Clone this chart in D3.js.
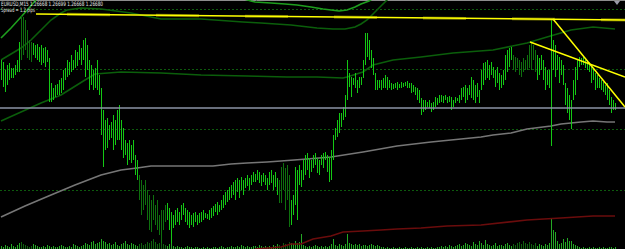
<!DOCTYPE html>
<html><head><meta charset="utf-8">
<script src="https://cdn.jsdelivr.net/npm/d3@7/dist/d3.min.js"></script>
<style>html,body{margin:0;padding:0;background:#000;overflow:hidden}svg{display:block}</style>
</head><body><svg id="c" width="625" height="249"></svg>
<script>
// ---- data ----
const symbolLabel = "EURUSD,M15";
const lastBar = ["1.26668", "1.26699", "1.26668", "1.26680"];
const spreadLabel = "Spread = 1.2 pips";
const bidPrice = 1.26680;
const gridLevels = [1.26779, 1.26719, 1.26659, 1.26598];

const highs = [
1.26728,1.26726,1.26718,1.26723,1.26725,1.26720,1.26720,1.26723,1.26728,1.26746,
1.26773,1.26771,1.26768,1.26758,1.26748,1.26746,1.26745,1.26743,1.26744,1.26741,
1.26743,1.26740,1.26741,1.26738,1.26730,1.26705,1.26700,1.26703,1.26704,1.26708,
1.26710,1.26718,1.26720,1.26728,1.26726,1.26733,1.26728,1.26738,1.26736,1.26743,
1.26740,1.26748,1.26750,1.26743,1.26728,1.26723,1.26718,1.26720,1.26728,1.26713,
1.26700,1.26678,1.26668,1.26670,1.26663,1.26666,1.26673,1.26668,1.26678,1.26683,
1.26668,1.26660,1.26648,1.26645,1.26648,1.26643,1.26648,1.26633,1.26628,1.26613,
1.26608,1.26603,1.26608,1.26598,1.26593,1.26588,1.26593,1.26583,1.26588,1.26573,
1.26578,1.26578,1.26583,1.26585,1.26580,1.26576,1.26573,1.26578,1.26580,1.26576,
1.26583,1.26585,1.26580,1.26578,1.26576,1.26573,1.26575,1.26576,1.26573,1.26575,
1.26576,1.26578,1.26575,1.26574,1.26578,1.26580,1.26582,1.26584,1.26586,1.26583,
1.26588,1.26593,1.26596,1.26598,1.26601,1.26603,1.26606,1.26608,1.26610,1.26608,
1.26611,1.26608,1.26610,1.26613,1.26610,1.26613,1.26616,1.26614,1.26618,1.26616,
1.26613,1.26615,1.26613,1.26610,1.26616,1.26618,1.26613,1.26616,1.26610,1.26608,
1.26621,1.26625,1.26620,1.26623,1.26613,1.26588,1.26593,1.26621,1.26618,1.26623,
1.26618,1.26628,1.26633,1.26635,1.26630,1.26628,1.26633,1.26635,1.26630,1.26628,
1.26633,1.26635,1.26636,1.26633,1.26631,1.26638,1.26653,1.26660,1.26668,1.26675,
1.26675,1.26681,1.26693,1.26728,1.26715,1.26711,1.26710,1.26715,1.26708,1.26711,
1.26711,1.26728,1.26755,1.26755,1.26748,1.26738,1.26730,1.26715,1.26708,1.26708,
1.26708,1.26710,1.26713,1.26711,1.26708,1.26705,1.26704,1.26705,1.26706,1.26704,
1.26706,1.26705,1.26706,1.26707,1.26705,1.26705,1.26703,1.26701,1.26700,1.26698,
1.26690,1.26688,1.26688,1.26686,1.26688,1.26685,1.26686,1.26691,1.26690,1.26693,
1.26693,1.26692,1.26693,1.26691,1.26692,1.26691,1.26688,1.26691,1.26690,1.26693,
1.26700,1.26701,1.26703,1.26700,1.26703,1.26711,1.26708,1.26703,1.26705,1.26698,
1.26718,1.26725,1.26726,1.26728,1.26723,1.26726,1.26721,1.26718,1.26721,1.26715,
1.26713,1.26718,1.26733,1.26738,1.26740,1.26741,1.26733,1.26731,1.26730,1.26728,
1.26726,1.26730,1.26728,1.26733,1.26743,1.26746,1.26743,1.26738,1.26733,1.26730,
1.26733,1.26728,1.26721,1.26718,1.26718,1.26769,1.26748,1.26743,1.26733,1.26731,
1.26728,1.26723,1.26705,1.26700,1.26693,1.26688,1.26708,1.26721,1.26728,1.26731,
1.26730,1.26731,1.26728,1.26728,1.26726,1.26721,1.26720,1.26715,1.26713,1.26710,
1.26708,1.26706,1.26703,1.26705,1.26698,1.26691,1.26688,1.26685];

const lows = [
1.26708,1.26701,1.26696,1.26703,1.26708,1.26710,1.26710,1.26713,1.26716,1.26716,
1.26728,1.26733,1.26738,1.26730,1.26728,1.26726,1.26733,1.26730,1.26728,1.26726,
1.26723,1.26725,1.26721,1.26726,1.26686,1.26686,1.26688,1.26691,1.26693,1.26693,
1.26695,1.26698,1.26708,1.26711,1.26713,1.26716,1.26718,1.26720,1.26722,1.26728,
1.26723,1.26728,1.26711,1.26718,1.26698,1.26703,1.26698,1.26700,1.26698,1.26693,
1.26653,1.26621,1.26638,1.26640,1.26648,1.26650,1.26638,1.26643,1.26648,1.26648,
1.26638,1.26630,1.26633,1.26623,1.26628,1.26625,1.26628,1.26613,1.26608,1.26588,
1.26573,1.26578,1.26583,1.26568,1.26558,1.26556,1.26568,1.26563,1.26558,1.26553,
1.26545,1.26558,1.26566,1.26568,1.26558,1.26545,1.26560,1.26563,1.26566,1.26563,
1.26568,1.26573,1.26566,1.26563,1.26560,1.26563,1.26561,1.26566,1.26563,1.26565,
1.26566,1.26568,1.26570,1.26569,1.26568,1.26570,1.26572,1.26576,1.26573,1.26576,
1.26578,1.26580,1.26583,1.26586,1.26588,1.26590,1.26593,1.26588,1.26596,1.26590,
1.26598,1.26593,1.26600,1.26602,1.26598,1.26603,1.26606,1.26606,1.26608,1.26605,
1.26602,1.26606,1.26603,1.26598,1.26603,1.26605,1.26598,1.26601,1.26593,1.26585,
1.26585,1.26598,1.26578,1.26588,1.26561,1.26563,1.26573,1.26583,1.26568,1.26603,
1.26601,1.26608,1.26613,1.26618,1.26610,1.26616,1.26620,1.26623,1.26615,1.26613,
1.26623,1.26620,1.26628,1.26616,1.26606,1.26608,1.26628,1.26648,1.26651,1.26655,
1.26661,1.26668,1.26671,1.26688,1.26701,1.26691,1.26703,1.26700,1.26695,1.26700,
1.26703,1.26710,1.26723,1.26731,1.26728,1.26720,1.26713,1.26698,1.26698,1.26700,
1.26698,1.26700,1.26700,1.26698,1.26700,1.26698,1.26699,1.26700,1.26698,1.26700,
1.26700,1.26701,1.26702,1.26700,1.26700,1.26695,1.26696,1.26693,1.26688,1.26685,
1.26673,1.26676,1.26678,1.26681,1.26680,1.26676,1.26678,1.26681,1.26683,1.26685,
1.26686,1.26685,1.26688,1.26685,1.26686,1.26678,1.26681,1.26685,1.26687,1.26685,
1.26688,1.26691,1.26685,1.26688,1.26693,1.26690,1.26688,1.26685,1.26691,1.26685,
1.26698,1.26703,1.26708,1.26710,1.26708,1.26713,1.26710,1.26701,1.26705,1.26698,
1.26700,1.26703,1.26708,1.26716,1.26721,1.26728,1.26718,1.26716,1.26720,1.26713,
1.26711,1.26716,1.26718,1.26718,1.26720,1.26718,1.26728,1.26716,1.26708,1.26713,
1.26718,1.26708,1.26698,1.26703,1.26700,1.26642,1.26718,1.26711,1.26718,1.26705,
1.26713,1.26703,1.26683,1.26675,1.26668,1.26659,1.26688,1.26693,1.26708,1.26721,
1.26723,1.26723,1.26720,1.26718,1.26716,1.26705,1.26708,1.26698,1.26700,1.26700,
1.26698,1.26696,1.26693,1.26688,1.26683,1.26675,1.26678,1.26678];

// bar index ranges drawn in the darker shade
const darkBars = [[10, 15], [69, 82], [139, 144], [256, 267]];

const volumes = [
3,2,4,3,2,5,3,2,4,6, 7,5,4,3,2,3,5,4,3,2, 2,3,2,4,3,2,3,2,2,3, 4,3,2,2,3,2,5,4,3,2, 3,4,6,5,4,7,8,5,6,7,
10,8,7,5,6,4,5,7,4,3, 5,6,8,5,4,6,5,4,3,5, 6,4,5,7,6,8,10,7,5,6, 9,5,4,3,5,6,3,2,3,2, 2,1,2,3,2,2,1,2,2,1,
1,2,1,2,1,1,2,2,1,2, 3,2,1,2,2,3,2,2,3,2, 4,3,2,3,2,2,3,3,2,4, 3,2,3,2,3,2,4,3,5,4, 3,6,5,4,7,6,5,8,6,7,
15,4,3,2,3,2,3,4,3,2, 3,2,3,2,3,5,10,4,3,5, 4,3,5,15,6,5,4,5,4,5, 3,4,4,3,4,5,4,3,4,3, 2,2,1,2,1,1,2,1,1,2,
1,1,2,1,1,2,1,1,2,1, 2,1,1,2,1,2,1,1,2,2, 3,2,3,2,4,3,2,3,4,5, 3,4,6,5,4,3,7,5,4,8, 6,4,9,5,4,3,4,6,3,4,
4,3,5,6,4,3,5,4,6,7, 5,8,6,5,7,5,4,6,3,5, 4,3,5,4,6,
31,19,17,8,5,6,10,7,11,8, 8,5,4,3,2,1,2,1,1,2, 1,2,1,1,2,1,2,1,1,2, 2,1,2];

// indicator lines: [bar index, price]
const bandUpperA = [[0,1.26750],[5,1.26760],[10,1.26771],[14,1.26780],[17,1.26787],[19,1.26792]];
const bandUpperB = [[120,1.26790],[125,1.26787],[127,1.26786],[135,1.26785],[142,1.26784],[148,1.26783],[155,1.26781],[161,1.26779],[169,1.26777],[173,1.26778],[177,1.26781],[180,1.26784],[184,1.26787],[187,1.26791]];
const bandMiddle = [[0,1.26728],[10,1.26740],[15,1.26748],[20,1.26758],[25,1.26768],[30,1.26775],[33,1.26778],[40,1.26780],[50,1.26779],[65,1.26775],[80,1.26769],[100,1.26769],[121,1.26766],[130,1.26765],[145,1.26763],[158,1.26760],[166,1.26759],[172,1.26759],[177,1.26761],[180,1.26764],[183,1.26768],[186,1.26774],[190,1.26782],[194,1.26790]];
const bandLower = [[0,1.26667],[10,1.26676],[20,1.26685],[30,1.26693],[42,1.26708],[47,1.26714],[60,1.26716],[80,1.26715],[100,1.26713],[123,1.26712],[143,1.26711],[158,1.26711],[171,1.26710],[173,1.26711],[181,1.26716],[186,1.26723],[196,1.26728],[210,1.26731],[226,1.26735],[246,1.26738],[263,1.26745],[273,1.26751],[285,1.26758],[296,1.26761],[307,1.26759]];
const maSlowIdx = [0,12,25,37,50,60,68,75,106,115,123,133,140,153,165,181,198,215,230,240,246,255,263,275,280,290,296,303,307];
const maSlowVal = [1.26571,1.26582,1.26593,1.26603,1.26613,1.26618,1.26620,1.26622,1.26622,1.26624,1.26625,1.26626,1.26627,1.26629,1.26631,1.26636,1.26642,1.26646,1.26649,1.26651,1.26653,1.26655,1.26659,1.26662,1.26664,1.26666,1.26667,1.26666,1.26666];
const maRed = [[127,1.26539],[140,1.26541],[145,1.26544],[150,1.26544],[156,1.26549],[165,1.26552],[171,1.26556],[181,1.26557],[190,1.26558],[198,1.26559],[210,1.26560],[223,1.26562],[240,1.26563],[263,1.26568],[280,1.26570],[296,1.26572],[307,1.26572]];

// trend lines drawn on the chart
const trendFlat = [[17.5,1.26774],[312,1.26768]];
const trendSteep = [[276,1.26769],[312,1.26681]];
const trendMid = [[264.5,1.26746],[312,1.26711]];

// ---- drawing ----
const W = 625, H = 249;
const svg = d3.select("#c");
svg.append("rect").attr("width", W).attr("height", H).attr("fill", "#000");
const x = d3.scaleLinear().domain([0, 312]).range([1, 625]);
const y = d3.scaleLinear().domain([1.26788, 1.26539]).range([0, 249]);
const yv = d3.scaleLinear().domain([0, 31]).range([249, 218]);

svg.append("clipPath").attr("id", "clip").append("rect").attr("width", W).attr("height", H);
const g = svg.append("g").attr("clip-path", "url(#clip)");

// grid
g.selectAll(".grid").data(gridLevels).enter().append("line")
  .attr("x1", 0).attr("x2", W)
  .attr("y1", d => Math.round(y(d)) + 0.5).attr("y2", d => Math.round(y(d)) + 0.5)
  .attr("stroke", "#0d5a0d").attr("stroke-width", 1).attr("stroke-dasharray", "2,2");

// top border line + marker
g.append("line").attr("x1", 0).attr("x2", W).attr("y1", 0.5).attr("y2", 0.5)
  .attr("stroke", "#8c8c8c").attr("stroke-width", 1);
g.append("path").attr("d", "M614,1 L620,1 L617,5 Z").attr("fill", "#9a9aa8");

const isDark = i => darkBars.some(r => i >= r[0] && i <= r[1]);

// volumes
g.selectAll(".vol").data(volumes).enter().append("rect")
  .attr("x", (d, i) => Math.round(x(i)))
  .attr("width", 1)
  .attr("y", d => yv(d))
  .attr("height", d => 249 - yv(d))
  .attr("fill", (d, i) => isDark(i) ? "#0f600f" : "#24a824");

const line = d3.line().x(d => x(d[0])).y(d => y(d[1]));

// slow MA (grey)
g.append("path").datum(maSlowIdx.map((v, k) => [v, maSlowVal[k]]))
  .attr("d", line).attr("fill", "none").attr("stroke", "#767676").attr("stroke-width", 1.6);
// red MA
g.append("path").datum(maRed).attr("d", line)
  .attr("fill", "none").attr("stroke", "#6a0c0c").attr("stroke-width", 1.6);
// bands
[[bandMiddle, "#0b5e0b"], [bandLower, "#0b5e0b"], [bandUpperA, "#1e9e1e"], [bandUpperB, "#1e9e1e"]]
  .forEach(([d, c]) => g.append("path").datum(d).attr("d", line)
    .attr("fill", "none").attr("stroke", c).attr("stroke-width", 1.6));

// price bars
g.selectAll(".bar").data(highs).enter().append("rect")
  .attr("x", (d, i) => Math.round(x(i)))
  .attr("width", 1)
  .attr("y", d => y(d))
  .attr("height", (d, i) => Math.max(1, y(lows[i]) - y(d)))
  .attr("fill", (d, i) => isDark(i) ? "#0e700e" : "#14c814");

// bid line
g.append("line").attr("x1", 0).attr("x2", W)
  .attr("y1", y(bidPrice)).attr("y2", y(bidPrice))
  .attr("stroke", "#8b93a6").attr("stroke-width", 1.4);

// trend lines
g.append("path").datum(trendFlat).attr("d", line).attr("fill", "none")
  .attr("stroke", "#8c8a00").attr("stroke-width", 3).attr("stroke-opacity", 0.7)
  .attr("stroke-dasharray", "43,46").attr("stroke-dashoffset", 58);
[trendFlat, trendSteep, trendMid].forEach(d =>
  g.append("path").datum(d).attr("d", line).attr("fill", "none")
    .attr("stroke", "#ffff00").attr("stroke-width", 1.5));

// header text
svg.append("text").attr("x", 1).attr("y", 5.6)
  .attr("font-family", "DejaVu Sans, sans-serif").attr("font-size", 6)
  .attr("fill", "#e6e6e6").attr("textLength", 102).attr("lengthAdjust", "spacingAndGlyphs")
  .text(symbolLabel + "  " + lastBar.join(" "));
svg.append("text").attr("x", 1).attr("y", 11.8)
  .attr("font-family", "DejaVu Sans, sans-serif").attr("font-size", 6)
  .attr("fill", "#e6e6e6").attr("textLength", 34).attr("lengthAdjust", "spacingAndGlyphs")
  .text(spreadLabel);
</script></body></html>
